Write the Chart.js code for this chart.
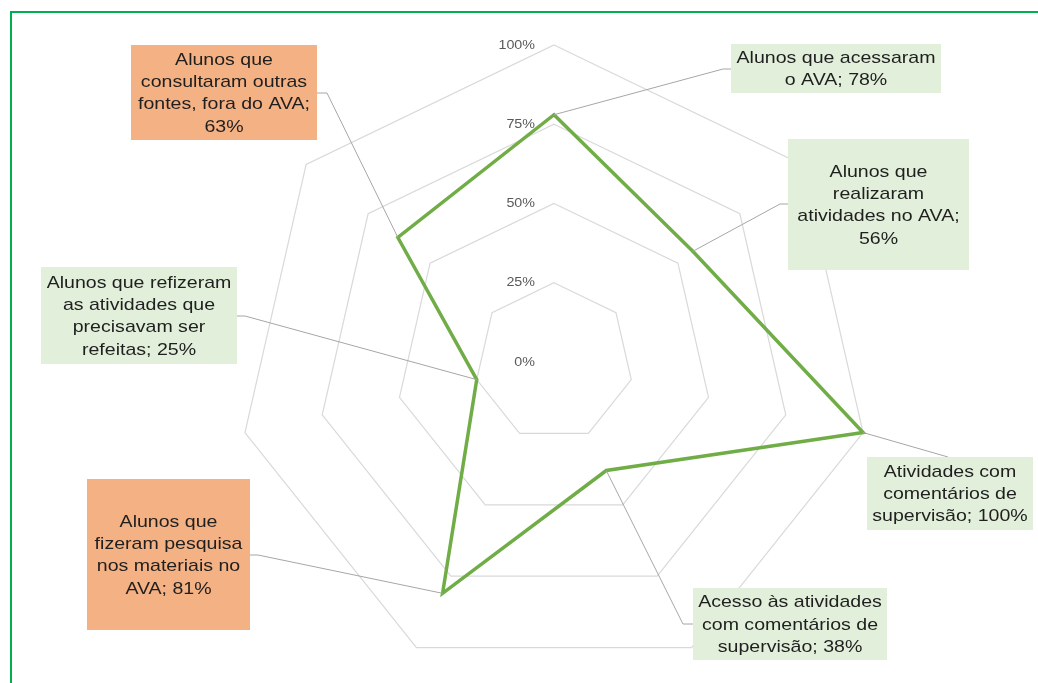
<!DOCTYPE html>
<html lang="pt-BR">
<head>
<meta charset="utf-8">
<title>Uso do AVA</title>
<script src="https://cdn.jsdelivr.net/npm/chart.js@4.4.1/dist/chart.umd.min.js"></script>
<style>
  html, body { margin: 0; padding: 0; background: #fff; overflow: hidden; }
  #moldura { position: absolute; left: 10px; top: 11px; width: 1100px; height: 800px;
             border-top: 2px solid #00B050; border-left: 2px solid #00B050; }
  #caixa { position: absolute; left: 0; top: 0; width: 1038px; height: 683px; }
</style>
</head>
<body>
<div id="moldura"></div>
<div id="caixa"><canvas id="grafico"></canvas></div>
<script>
// eixos no sentido horário a partir do topo
const categorias = [
    "Alunos que acessaram o AVA",
    "Alunos que realizaram atividades no AVA",
    "Atividades com comentários de supervisão",
    "Acesso às atividades com comentários de supervisão",
    "Alunos que fizeram pesquisa nos materiais no AVA",
    "Alunos que refizeram as atividades que precisavam ser refeitas",
    "Alunos que consultaram outras fontes, fora do AVA"
];
const valores = [78, 56, 100, 38, 81, 25, 63];
const rotulosEscala = ["0%", "25%", "50%", "75%", "100%"];

// caixas dos rótulos: retângulo, ponto de saída da linha, cotovelo e largura de quebra
const caixas = [
    { x: 731, y: 44,  w: 210, h: 49,  sx: 731, sy: 69,  cx: 723,  cy: 69,  max: 205, cor: "#E2EFDA" },
    { x: 788, y: 139, w: 181, h: 131, sx: 788, sy: 204, cx: 780,  cy: 204, max: 172, cor: "#E2EFDA" },
    { x: 867, y: 457, w: 166, h: 73,  sx: 948, sy: 457, cx: null, cy: null, max: 160, cor: "#E2EFDA" },
    { x: 693, y: 588, w: 194, h: 72,  sx: 693, sy: 624, cx: 683,  cy: 624, max: 188, cor: "#E2EFDA" },
    { x: 87,  y: 479, w: 163, h: 151, sx: 250, sy: 555, cx: 258,  cy: 555, max: 156, cor: "#F4B183" },
    { x: 41,  y: 267, w: 196, h: 97,  sx: 237, sy: 316, cx: 245,  cy: 316, max: 190, cor: "#E2EFDA" },
    { x: 131, y: 45,  w: 186, h: 95,  sx: 317, sy: 93,  cx: 327,  cy: 93,  max: 182, cor: "#F4B183" }
];

const ESTICA = 1.15;
const FONTE = '17px "Liberation Sans", Arial, sans-serif';

function quebrar(ctx, texto, max) {
    const palavras = texto.split(" ");
    const linhas = [];
    let atual = "";
    for (const p of palavras) {
        const teste = atual ? atual + " " + p : p;
        if (atual && ctx.measureText(teste).width * ESTICA > max) {
            linhas.push(atual);
            atual = p;
        } else {
            atual = teste;
        }
    }
    linhas.push(atual);
    return linhas;
}

const rotulos = {
    id: "rotulos",
    beforeDatasetsDraw(chart) {
        const r = chart.scales.r;
        const ctx = chart.ctx;
        ctx.save();
        ctx.font = '13px "Liberation Sans", Arial, sans-serif';
        ctx.fillStyle = "#595959";
        ctx.textAlign = "right";
        ctx.textBaseline = "middle";
        r.ticks.forEach((t, i) => {
            const y = r.yCenter - r.getDistanceFromCenterForValue(t.value);
            ctx.save();
            ctx.translate(r.xCenter - 19, y);
            ctx.scale(1.1, 1);
            ctx.fillText(rotulosEscala[i], 0, 0);
            ctx.restore();
        });
        ctx.restore();
    },
    afterDatasetsDraw(chart) {
        const ctx = chart.ctx;
        const pontos = chart.getDatasetMeta(0).data;
        ctx.save();

        // linhas de chamada
        ctx.strokeStyle = "#A6A6A6";
        ctx.lineWidth = 1;
        caixas.forEach((c, i) => {
            const p = pontos[i];
            ctx.beginPath();
            ctx.moveTo(p.x, p.y);
            if (c.cx !== null) ctx.lineTo(c.cx, c.cy);
            ctx.lineTo(c.sx, c.sy);
            ctx.stroke();
        });

        // caixas com texto
        ctx.font = FONTE;
        ctx.textAlign = "center";
        ctx.textBaseline = "middle";
        caixas.forEach((c, i) => {
            ctx.fillStyle = c.cor;
            ctx.fillRect(c.x, c.y, c.w, c.h);
            const texto = categorias[i] + "; " + valores[i] + "%";
            const linhas = quebrar(ctx, texto, c.max);
            const alt = 22.3;
            const y0 = c.y + c.h / 2 - (linhas.length - 1) * alt / 2;
            ctx.fillStyle = "#1f1f1f";
            linhas.forEach((l, k) => {
                ctx.save();
                ctx.translate(c.x + c.w / 2, y0 + k * alt + 1);
                ctx.scale(ESTICA, 1);
                ctx.fillText(l, 0, 0);
                ctx.restore();
            });
        });
        ctx.restore();
    }
};

new Chart("grafico", {
    type: "radar",
    data: {
        labels: categorias,
        datasets: [{
            data: valores,
            borderColor: "#70AD47",
            borderWidth: 3.5,
            pointRadius: 0,
            pointHoverRadius: 0,
            fill: false,
            tension: 0
        }]
    },
    options: {
        responsive: true,
        maintainAspectRatio: false,
        animation: false,
        layout: { padding: { left: 237, right: 167, top: 45, bottom: 4 } },
        plugins: { legend: { display: false }, tooltip: { enabled: false } },
        scales: {
            r: {
                min: 0,
                max: 100,
                ticks: { stepSize: 25, display: false },
                pointLabels: { display: false },
                angleLines: { display: false },
                grid: { circular: false, color: "#D9D9D9", lineWidth: 1.2 }
            }
        }
    },
    plugins: [rotulos]
});
</script>
</body>
</html>
